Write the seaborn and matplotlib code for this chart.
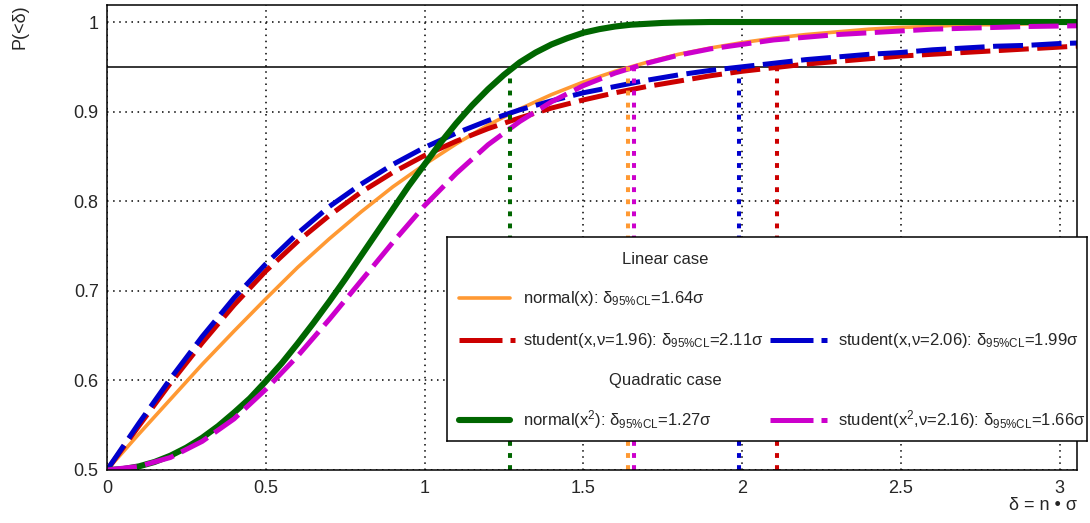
import matplotlib
matplotlib.use("Agg")
import matplotlib.pyplot as plt
import seaborn as sns
from matplotlib.ticker import MultipleLocator, FuncFormatter

sns.set_style("white")
plt.rcParams['font.family'] = ['Liberation Sans', 'DejaVu Sans']
plt.rcParams['mathtext.fontset'] = 'custom'
plt.rcParams['mathtext.rm'] = 'Liberation Sans'
plt.rcParams['mathtext.it'] = 'Liberation Sans:italic'
plt.rcParams['mathtext.bf'] = 'Liberation Sans:bold'

delta = [0.0, 0.1, 0.2, 0.3, 0.4, 0.5, 0.6, 0.7, 0.8, 0.9,
         1.0, 1.1, 1.2, 1.3, 1.4, 1.5, 1.6, 1.7, 1.8, 1.9,
         2.0, 2.1, 2.2, 2.3, 2.4, 2.5, 2.6, 2.7, 2.8, 2.9,
         3.0, 3.1]
# finer reading for the steep normal(x^2) curve
delta_fine = [0.0, 0.05, 0.1, 0.15, 0.2, 0.25, 0.3, 0.35, 0.4, 0.45,
              0.5, 0.55, 0.6, 0.65, 0.7, 0.75, 0.8, 0.85, 0.9, 0.95,
              1.0, 1.05, 1.1, 1.15, 1.2, 1.25, 1.3, 1.35, 1.4, 1.45,
              1.5, 1.55, 1.6, 1.65, 1.7, 1.75, 1.8, 1.9, 2.0, 2.5,
              3.1]

# P(<delta) for each case
normal_x = [0.5, 0.540, 0.579, 0.618, 0.655, 0.691, 0.726, 0.758, 0.788, 0.816,
            0.841, 0.864, 0.885, 0.903, 0.919, 0.933, 0.945, 0.955, 0.964, 0.971,
            0.977, 0.982, 0.986, 0.989, 0.992, 0.994, 0.995, 0.997, 0.997, 0.998,
            0.999, 0.999]
student_x_196 = [0.5, 0.549, 0.597, 0.642, 0.684, 0.722, 0.755, 0.784, 0.810, 0.832,
                 0.851, 0.867, 0.881, 0.893, 0.904, 0.913, 0.921, 0.928, 0.934, 0.940,
                 0.945, 0.949, 0.953, 0.956, 0.959, 0.962, 0.964, 0.966, 0.968, 0.970,
                 0.972, 0.974]
student_x_206 = [0.5, 0.552, 0.602, 0.649, 0.692, 0.730, 0.764, 0.794, 0.819, 0.841,
                 0.860, 0.876, 0.890, 0.902, 0.912, 0.921, 0.928, 0.935, 0.941, 0.946,
                 0.950, 0.954, 0.958, 0.961, 0.964, 0.966, 0.969, 0.971, 0.973, 0.974,
                 0.976, 0.977]
normal_x2 = [0.5, 0.501, 0.504, 0.509, 0.516, 0.525, 0.536, 0.549, 0.564, 0.580,
             0.599, 0.619, 0.641, 0.664, 0.688, 0.713, 0.739, 0.765, 0.791, 0.817,
             0.841, 0.865, 0.887, 0.907, 0.925, 0.941, 0.955, 0.966, 0.975, 0.982,
             0.988, 0.992, 0.995, 0.997, 0.998, 0.999, 0.9995, 1.0, 1.0, 1.0,
             1.0]
student_x2_216 = [0.5, 0.504, 0.514, 0.532, 0.557, 0.590, 0.627, 0.668, 0.711, 0.754,
                  0.795, 0.831, 0.863, 0.889, 0.911, 0.929, 0.943, 0.954, 0.963, 0.970,
                  0.975, 0.980, 0.983, 0.986, 0.988, 0.990, 0.992, 0.993, 0.994, 0.995,
                  0.9955, 0.996]

# 95% CL points
cl_level = 0.95
cl_delta = [1.27, 1.64, 1.66, 1.99, 2.11]

c_orange = '#ff9933'
c_red = '#cc0000'
c_blue = '#0000cc'
c_green = '#006600'
c_magenta = '#cc00cc'
cl_colors = [c_green, c_orange, c_magenta, c_blue, c_red]

dash = (0, (6, 1.7))
dot = (0, (1.2, 1.8))

fig = plt.figure(figsize=(10.9, 5.23), dpi=100)
ax = fig.add_axes([107/1090, 1 - 470/523, 970/1090, 465/523])

ax.grid(True, which='major', color='black', linestyle=(0, (1, 3)), linewidth=1.1)
ax.axhline(cl_level, color='black', linewidth=1.1, zorder=1.5)

sns.lineplot(x=delta, y=normal_x, ax=ax, color=c_orange, linewidth=2.6)
sns.lineplot(x=delta, y=student_x_196, ax=ax, color=c_red, linewidth=3.6, linestyle=dash)
sns.lineplot(x=delta, y=student_x_206, ax=ax, color=c_blue, linewidth=3.6, linestyle=dash)
sns.lineplot(x=delta_fine, y=normal_x2, ax=ax, color=c_green, linewidth=4.4)
sns.lineplot(x=delta, y=student_x2_216, ax=ax, color=c_magenta, linewidth=3.6, linestyle=dash)

ax.vlines(cl_delta, 0.5, cl_level, colors=cl_colors, linewidth=2.9, linestyles=[dot])

ax.set_xlim(0, 3.055)
ax.set_ylim(0.5, 1.019)
ax.xaxis.set_major_locator(MultipleLocator(0.5))
ax.xaxis.set_minor_locator(MultipleLocator(0.1))
ax.yaxis.set_major_locator(MultipleLocator(0.1))
ax.yaxis.set_minor_locator(MultipleLocator(0.02))
fmt = FuncFormatter(lambda v, p: f"{v:g}")
ax.xaxis.set_major_formatter(fmt)
ax.yaxis.set_major_formatter(fmt)
ax.tick_params(which='both', direction='in', top=False, right=False,
               width=0.8, color='black', labelsize=13)
ax.tick_params(axis='y', which='major', length=20, pad=6)
ax.tick_params(axis='y', which='minor', length=10)
ax.tick_params(axis='x', which='major', length=10, pad=7)
ax.tick_params(axis='x', which='minor', length=5)
for s in ax.spines.values():
    s.set_color('black')
    s.set_linewidth(1.1)

fig.text(20/1090, 1 - 4/523, 'P(<δ)', rotation=90, ha='center', va='top', fontsize=13)
fig.text(1077/1090, 1 - 505/523, 'δ = n • σ', ha='right', va='center', fontsize=13)

# legend box
lax = fig.add_axes([447/1090, 1 - 441/523, 640/1090, 204/523])
lax.set_xlim(0, 640)
lax.set_ylim(204, 0)
lax.set_xticks([])
lax.set_yticks([])
lax.set_facecolor('white')
for s in lax.spines.values():
    s.set_color('black')
    s.set_linewidth(1.1)

sub = r'$_{\mathrm{95\%CL}}$'
fs = 12
lax.text(218, 22, 'Linear case', ha='center', va='center', fontsize=fs)
lax.text(218, 144, 'Quadratic case', ha='center', va='center', fontsize=fs)
leg_dash = (0, (8.6, 1.6))

lax.plot([12, 63], [61, 61], color=c_orange, linewidth=2.6)
lax.text(76, 61, 'normal(x): δ' + sub + '=1.64σ', va='center', fontsize=fs)
lax.plot([12, 68], [103, 103], color=c_red, linewidth=3.6, linestyle=leg_dash)
lax.text(76, 103, 'student(x,ν=1.96): δ' + sub + '=2.11σ', va='center', fontsize=fs)
lax.plot([323, 380], [103, 103], color=c_blue, linewidth=3.6, linestyle=leg_dash)
lax.text(391, 103, 'student(x,ν=2.06): δ' + sub + '=1.99σ', va='center', fontsize=fs)
lax.plot([12, 63], [183, 183], color=c_green, linewidth=4.4)
lax.text(76, 183, r'normal(x$^{\mathrm{2}}$): δ' + sub + '=1.27σ', va='center', fontsize=fs)
lax.plot([323, 380], [183, 183], color=c_magenta, linewidth=3.6, linestyle=leg_dash)
lax.text(391, 183, r'student(x$^{\mathrm{2}}$,ν=2.16): δ' + sub + '=1.66σ', va='center', fontsize=fs)

fig.savefig('out.png', dpi=100)
